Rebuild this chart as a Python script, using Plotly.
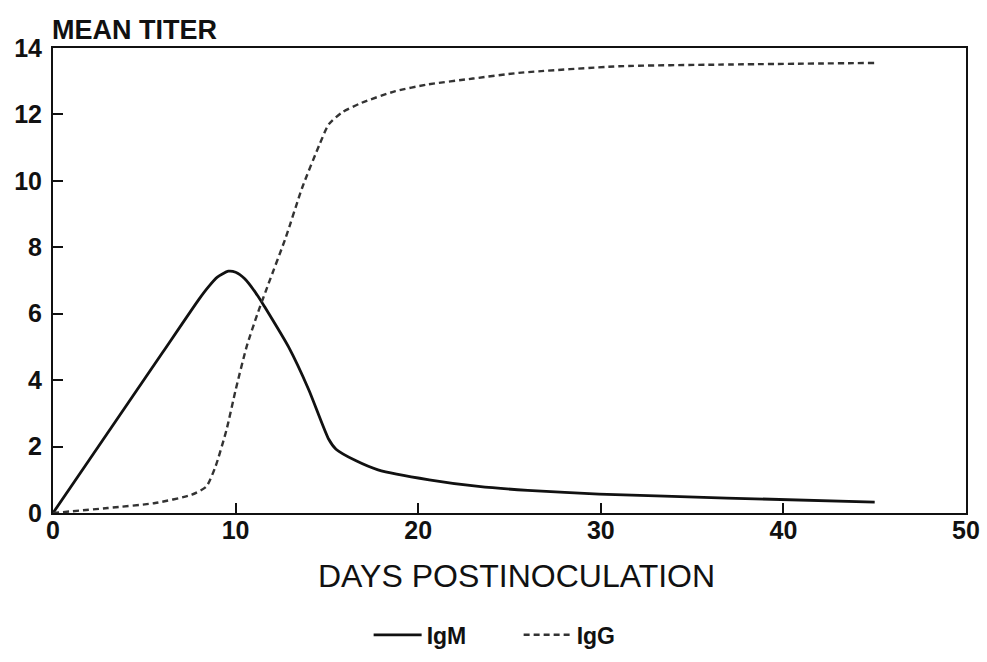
import plotly.graph_objects as go

# IgM (solid)
igm_days = [0, 2, 4, 6, 8, 8.5, 9, 9.6, 10, 10.5, 11.2, 11.6, 12.9, 14.0, 15.1, 15.5, 16.6, 17.8, 20.6, 23.3, 26.0, 29.9, 36.9, 45.0]
igm_titer = [0, 1.61, 3.22, 4.83, 6.44, 6.8, 7.1, 7.28, 7.25, 7.05, 6.55, 6.2, 5.0, 3.72, 2.22, 1.92, 1.57, 1.3, 1.0, 0.8, 0.68, 0.57, 0.45, 0.33]

# IgG (dashed)
igg_days = [0, 3, 5.6, 7.6, 8.4, 8.9, 9.5, 10.0, 10.6, 11.2, 11.8, 12.75, 13.65, 14.6, 15.1, 15.8, 16.9, 18.75, 20.5, 23.0, 25.5, 31.0, 36.5, 45.0]
igg_titer = [0, 0.15, 0.3, 0.55, 0.8, 1.4, 2.5, 3.7, 5.0, 6.0, 6.9, 8.3, 9.8, 11.1, 11.7, 12.05, 12.35, 12.7, 12.9, 13.08, 13.25, 13.45, 13.5, 13.55]

x_ticks = [0, 10, 20, 30, 40, 50]
y_ticks = [0, 2, 4, 6, 8, 10, 12, 14]

font_family = "Liberation Sans, Arial, sans-serif"

fig = go.Figure()
fig.add_trace(go.Scatter(
    x=igm_days, y=igm_titer, name="IgM", mode="lines",
    line=dict(color="#111111", width=2.8, shape="spline", smoothing=0.6),
))
fig.add_trace(go.Scatter(
    x=igg_days, y=igg_titer, name="IgG", mode="lines",
    line=dict(color="#333333", width=2.4, dash="6px,4px", shape="spline", smoothing=0.6),
))

fig.update_layout(
    width=987, height=662,
    margin=dict(l=53, r=21, t=48, b=149, autoexpand=False),
    paper_bgcolor="white", plot_bgcolor="white",
    font=dict(family=font_family, color="#111111"),
    showlegend=True,
    legend=dict(
        orientation="h", x=0.510, xanchor="center", y=-0.262, yanchor="middle",
        font=dict(size=23, family=font_family, weight="bold"),
        itemwidth=48, entrywidthmode="pixels", entrywidth=87,
    ),
    xaxis=dict(
        range=[0, 50], tickvals=x_ticks, ticktext=[str(v) for v in x_ticks],
        ticks="inside", ticklen=10, tickwidth=1.5, tickcolor="#111111",
        showline=True, linecolor="#111111", linewidth=2, mirror=True,
        showgrid=False, zeroline=False, automargin=False,
        tickfont=dict(size=25, family=font_family, weight="bold"),
        ticklabelstandoff=-6,
    ),
    yaxis=dict(
        range=[0, 14], tickvals=y_ticks, ticktext=[str(v) for v in y_ticks],
        ticks="inside", ticklen=10, tickwidth=1.5, tickcolor="#111111",
        showline=True, linecolor="#111111", linewidth=2, mirror=True,
        showgrid=False, zeroline=False, automargin=False,
        tickfont=dict(size=25, family=font_family, weight="bold"),
        ticklabelstandoff=4,
    ),
    annotations=[
        dict(
            text="MEAN TITER", xref="paper", yref="paper", x=-0.003, y=1.0,
            xanchor="left", yanchor="bottom", yshift=1, showarrow=False,
            font=dict(size=27, family=font_family, weight="bold"),
        ),
        dict(
            text="DAYS POSTINOCULATION", xref="paper", yref="paper", x=0.508, y=-0.1355,
            xanchor="center", yanchor="middle", showarrow=False,
            font=dict(size=32, family=font_family),
        ),
    ],
)

fig.write_html(
    "out.html",
    config={"displayModeBar": False},
    post_script="document.body.style.margin='0px';",
)
